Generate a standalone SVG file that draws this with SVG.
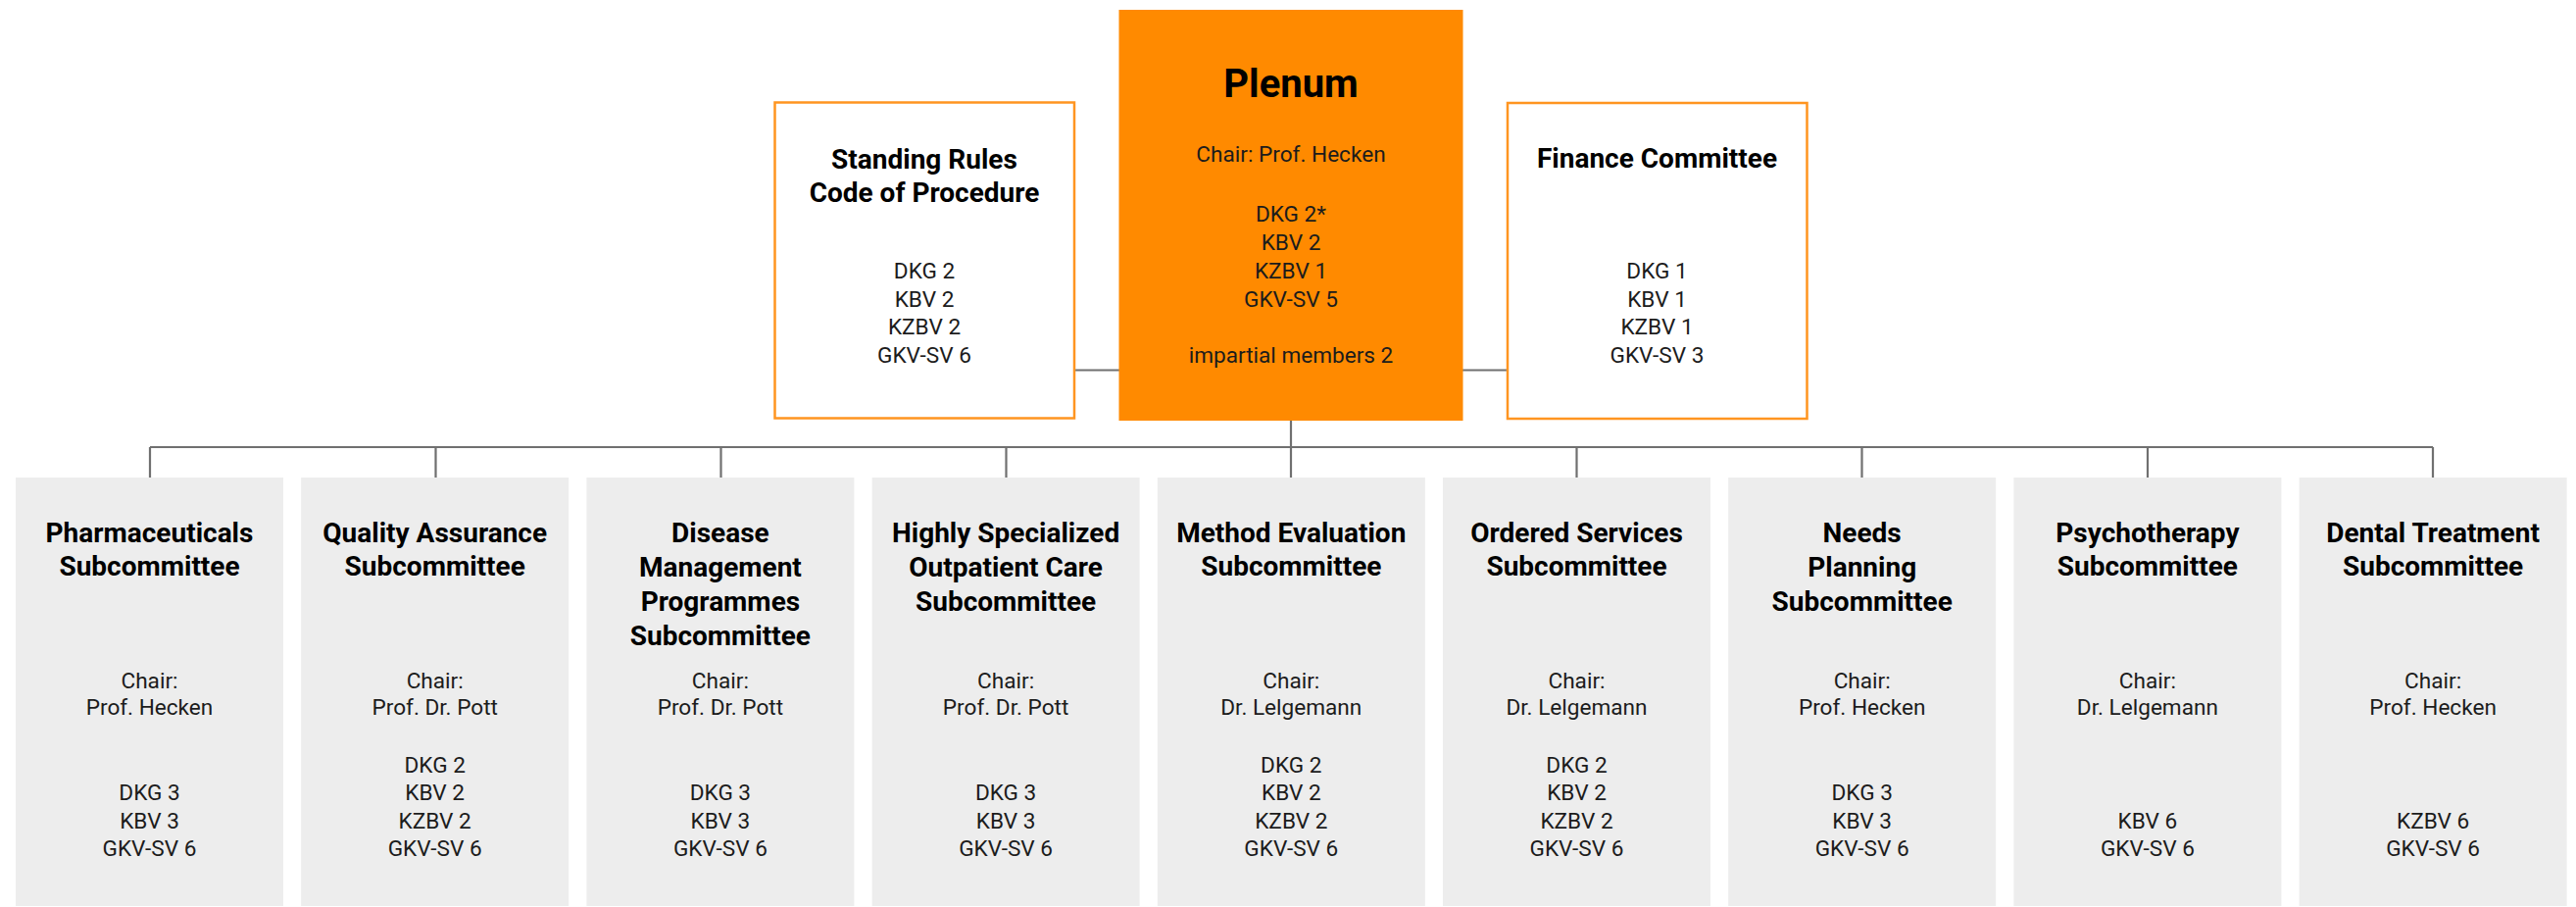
<svg xmlns="http://www.w3.org/2000/svg" width="2628" height="925" viewBox="0 0 2628 925">
<style>
text{font-family:Roboto,"Liberation Sans",sans-serif;text-anchor:middle;fill:#1c1c1c}
.t{font-size:28px;font-weight:bold;fill:#000}
.b{font-size:22.6px}
.p{font-size:40px;font-weight:bold;fill:#000}
.top{fill:#fff;stroke:#FF9520;stroke-width:2.5}
.sub{fill:#EDEDED}
.c{stroke:#707070;stroke-width:2.2;fill:none}
</style>
<rect width="2628" height="925" fill="#fff"/>
<g id="connectors">
<path class="c" d="M1096 377.5H1142M1492 377.5H1538M1317 429V487M153 456H2482M153 456V487M444.5 456V487M735.5 456V487M1026.5 456V487M1608.5 456V487M1899.5 456V487M2191 456V487M2482 456V487"/>
</g>
<g id="standing-rules">
<rect class="top" x="790.5" y="104.5" width="305.5" height="322"/>
<text class="t" x="943" y="172">Standing Rules</text>
<text class="t" x="943" y="206">Code of Procedure</text>
<text class="b" x="943" y="284">DKG 2</text>
<text class="b" x="943" y="312.7">KBV 2</text>
<text class="b" x="943" y="341.4">KZBV 2</text>
<text class="b" x="943" y="370.1">GKV-SV 6</text>
</g>
<g id="plenum">
<rect x="1141.5" y="10" width="351" height="419" fill="#FF8A00"/>
<text class="p" x="1317" y="99">Plenum</text>
<text class="b" x="1317" y="165">Chair: Prof. Hecken</text>
<text class="b" x="1317" y="226">DKG 2*</text>
<text class="b" x="1317" y="255">KBV 2</text>
<text class="b" x="1317" y="284">KZBV 1</text>
<text class="b" x="1317" y="312.7">GKV-SV 5</text>
<text class="b" x="1317" y="370">impartial members 2</text>
</g>
<g id="finance">
<rect class="top" x="1538" y="105" width="305.5" height="322"/>
<text class="t" x="1690.5" y="171">Finance Committee</text>
<text class="b" x="1690.5" y="284">DKG 1</text>
<text class="b" x="1690.5" y="312.7">KBV 1</text>
<text class="b" x="1690.5" y="341.4">KZBV 1</text>
<text class="b" x="1690.5" y="370.1">GKV-SV 3</text>
</g>
<g id="pharmaceuticals">
<rect class="sub" x="16" y="487" width="273" height="437"/>
<text class="t" x="152.5" y="553.3">Pharmaceuticals</text>
<text class="t" x="152.5" y="587.3">Subcommittee</text>
<text class="b" x="152.5" y="701.7">Chair:</text>
<text class="b" x="152.5" y="729">Prof. Hecken</text>
<text class="b" x="152.5" y="816">DKG 3</text>
<text class="b" x="152.5" y="844.5">KBV 3</text>
<text class="b" x="152.5" y="873.3">GKV-SV 6</text>
</g>
<g id="quality-assurance">
<rect class="sub" x="307.2" y="487" width="273" height="437"/>
<text class="t" x="443.7" y="553.3">Quality Assurance</text>
<text class="t" x="443.7" y="587.3">Subcommittee</text>
<text class="b" x="443.7" y="701.7">Chair:</text>
<text class="b" x="443.7" y="729">Prof. Dr. Pott</text>
<text class="b" x="443.7" y="787.7">DKG 2</text>
<text class="b" x="443.7" y="816">KBV 2</text>
<text class="b" x="443.7" y="844.5">KZBV 2</text>
<text class="b" x="443.7" y="873.3">GKV-SV 6</text>
</g>
<g id="disease-management">
<rect class="sub" x="598.4" y="487" width="273" height="437"/>
<text class="t" x="734.9" y="553.3">Disease</text>
<text class="t" x="734.9" y="587.8">Management</text>
<text class="t" x="734.9" y="622.5">Programmes</text>
<text class="t" x="734.9" y="657.5">Subcommittee</text>
<text class="b" x="734.9" y="701.7">Chair:</text>
<text class="b" x="734.9" y="729">Prof. Dr. Pott</text>
<text class="b" x="734.9" y="816">DKG 3</text>
<text class="b" x="734.9" y="844.5">KBV 3</text>
<text class="b" x="734.9" y="873.3">GKV-SV 6</text>
</g>
<g id="highly-specialized">
<rect class="sub" x="889.6" y="487" width="273" height="437"/>
<text class="t" x="1026.1" y="553.3">Highly Specialized</text>
<text class="t" x="1026.1" y="587.8">Outpatient Care</text>
<text class="t" x="1026.1" y="622.5">Subcommittee</text>
<text class="b" x="1026.1" y="701.7">Chair:</text>
<text class="b" x="1026.1" y="729">Prof. Dr. Pott</text>
<text class="b" x="1026.1" y="816">DKG 3</text>
<text class="b" x="1026.1" y="844.5">KBV 3</text>
<text class="b" x="1026.1" y="873.3">GKV-SV 6</text>
</g>
<g id="method-evaluation">
<rect class="sub" x="1180.8" y="487" width="273" height="437"/>
<text class="t" x="1317.3" y="553.3">Method Evaluation</text>
<text class="t" x="1317.3" y="587.3">Subcommittee</text>
<text class="b" x="1317.3" y="701.7">Chair:</text>
<text class="b" x="1317.3" y="729">Dr. Lelgemann</text>
<text class="b" x="1317.3" y="787.7">DKG 2</text>
<text class="b" x="1317.3" y="816">KBV 2</text>
<text class="b" x="1317.3" y="844.5">KZBV 2</text>
<text class="b" x="1317.3" y="873.3">GKV-SV 6</text>
</g>
<g id="ordered-services">
<rect class="sub" x="1472" y="487" width="273" height="437"/>
<text class="t" x="1608.5" y="553.3">Ordered Services</text>
<text class="t" x="1608.5" y="587.3">Subcommittee</text>
<text class="b" x="1608.5" y="701.7">Chair:</text>
<text class="b" x="1608.5" y="729">Dr. Lelgemann</text>
<text class="b" x="1608.5" y="787.7">DKG 2</text>
<text class="b" x="1608.5" y="816">KBV 2</text>
<text class="b" x="1608.5" y="844.5">KZBV 2</text>
<text class="b" x="1608.5" y="873.3">GKV-SV 6</text>
</g>
<g id="needs-planning">
<rect class="sub" x="1763.2" y="487" width="273" height="437"/>
<text class="t" x="1899.7" y="553.3">Needs</text>
<text class="t" x="1899.7" y="587.8">Planning</text>
<text class="t" x="1899.7" y="622.5">Subcommittee</text>
<text class="b" x="1899.7" y="701.7">Chair:</text>
<text class="b" x="1899.7" y="729">Prof. Hecken</text>
<text class="b" x="1899.7" y="816">DKG 3</text>
<text class="b" x="1899.7" y="844.5">KBV 3</text>
<text class="b" x="1899.7" y="873.3">GKV-SV 6</text>
</g>
<g id="psychotherapy">
<rect class="sub" x="2054.4" y="487" width="273" height="437"/>
<text class="t" x="2190.9" y="553.3">Psychotherapy</text>
<text class="t" x="2190.9" y="587.3">Subcommittee</text>
<text class="b" x="2190.9" y="701.7">Chair:</text>
<text class="b" x="2190.9" y="729">Dr. Lelgemann</text>
<text class="b" x="2190.9" y="844.5">KBV 6</text>
<text class="b" x="2190.9" y="873.3">GKV-SV 6</text>
</g>
<g id="dental-treatment">
<rect class="sub" x="2345.6" y="487" width="273" height="437"/>
<text class="t" x="2482.1" y="553.3">Dental Treatment</text>
<text class="t" x="2482.1" y="587.3">Subcommittee</text>
<text class="b" x="2482.1" y="701.7">Chair:</text>
<text class="b" x="2482.1" y="729">Prof. Hecken</text>
<text class="b" x="2482.1" y="844.5">KZBV 6</text>
<text class="b" x="2482.1" y="873.3">GKV-SV 6</text>
</g>
</svg>
